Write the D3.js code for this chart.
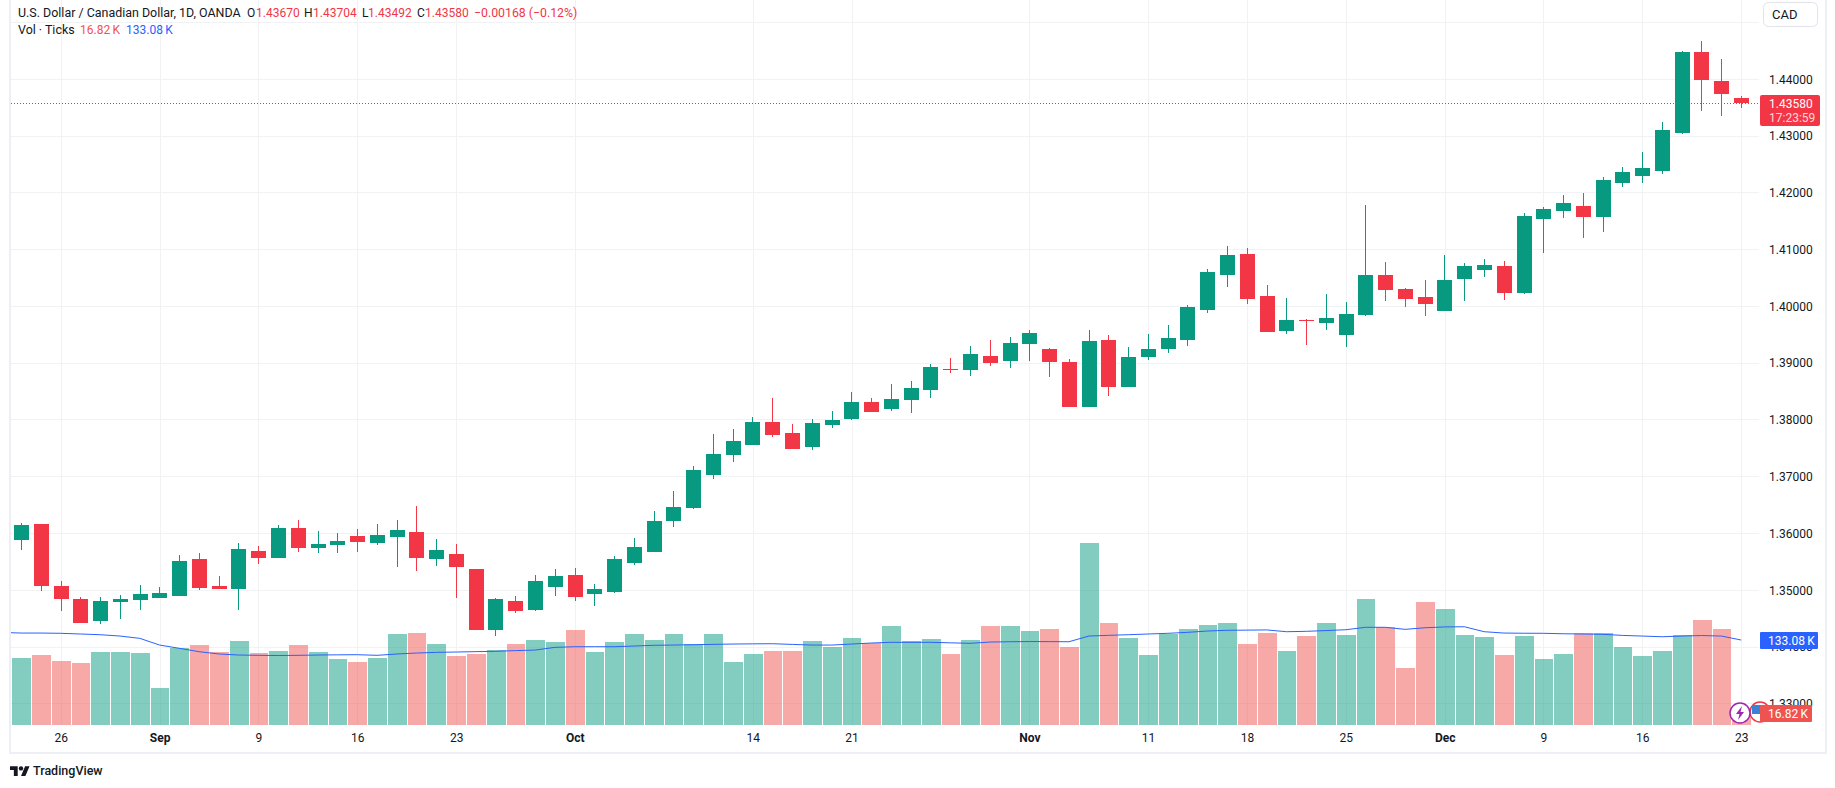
<!DOCTYPE html>
<html><head><meta charset="utf-8">
<script src="https://cdn.jsdelivr.net/npm/d3@7/dist/d3.min.js"></script>
<style>
html,body{margin:0;padding:0;background:#fff;overflow:hidden}
svg{display:block}
text{font-family:Roboto,sans-serif;fill:#131722}
</style></head><body>
<svg id="c" width="1835" height="788"></svg>
<script>
const dates=["08-22","08-23","08-26","08-27","08-28","08-29","08-30","09-02","09-03","09-04","09-05","09-06","09-09","09-10","09-11","09-12","09-13","09-16","09-17","09-18","09-19","09-20","09-23","09-24","09-25","09-26","09-27","09-30","10-01","10-02","10-03","10-04","10-07","10-08","10-09","10-10","10-11","10-14","10-15","10-16","10-17","10-18","10-21","10-22","10-23","10-24","10-25","10-28","10-29","10-30","10-31","11-01","11-04","11-05","11-06","11-07","11-08","11-11","11-12","11-13","11-14","11-15","11-18","11-19","11-20","11-21","11-22","11-25","11-26","11-27","11-28","11-29","12-02","12-03","12-04","12-05","12-06","12-09","12-10","12-11","12-12","12-13","12-16","12-17","12-18","12-19","12-20","12-23"];
const open=[1.3589,1.36167,1.35077,1.34849,1.34462,1.34796,1.34831,1.34866,1.34902,1.35552,1.35077,1.35025,1.35692,1.35569,1.36097,1.35745,1.35798,1.35956,1.35833,1.35938,1.36026,1.35552,1.3564,1.35376,1.34304,1.34814,1.34655,1.3506,1.3527,1.34937,1.34972,1.35482,1.35675,1.3622,1.36448,1.37028,1.3738,1.37555,1.3796,1.37766,1.3752,1.37907,1.38012,1.38311,1.38188,1.38346,1.38522,1.38903,1.38874,1.3912,
1.39039,1.39338,1.3925,1.39021,1.38231,1.39408,1.38582,1.39109,1.3925,1.39408,1.39935,1.4055,1.40918,1.40181,1.39566,1.39759,1.39707,1.39496,1.39847,1.4055,1.40304,1.40163,1.39912,1.4048,1.40638,1.40708,1.40241,1.41534,1.41675,1.41762,1.41569,1.42166,1.42289,1.42377,1.43062,1.4448,1.4397,1.4367];
const high=[1.3618,1.36167,1.35165,1.34884,1.34884,1.34919,1.35095,1.3506,1.35622,1.35657,1.35253,1.35833,1.3578,1.36149,1.36237,1.36044,1.36009,1.36079,1.36167,1.36237,1.36483,1.35903,1.35815,1.35376,1.34866,1.34902,1.3527,1.35376,1.35394,1.35112,1.35605,1.35921,1.36395,1.36747,1.37186,1.37749,1.37837,1.38047,1.38381,1.37924,1.38012,1.38153,1.38487,1.38381,1.38627,1.3868,1.38979,1.39084,1.39295,1.39401,
1.3946,1.39584,1.39267,1.39074,1.39584,1.39496,1.39285,1.39513,1.39671,1.40023,1.40655,1.41059,1.41024,1.40374,1.40146,1.39776,1.40216,1.40076,1.4178,1.40778,1.40322,1.40462,1.40901,1.40761,1.40831,1.40796,1.41639,1.41745,1.41956,1.41991,1.42272,1.42448,1.42711,1.4325,1.44499,1.44673,1.44357,1.43704];
const low=[1.3571,1.34995,1.34638,1.34427,1.3441,1.34497,1.34655,1.34866,1.34902,1.35007,1.35025,1.34655,1.35464,1.35569,1.35675,1.35657,1.35657,1.35675,1.35798,1.35411,1.35341,1.35429,1.34866,1.34304,1.34199,1.34591,1.34638,1.34902,1.34814,1.34726,1.34954,1.35446,1.35675,1.36114,1.3643,1.36958,1.37257,1.37555,1.37696,1.37485,1.37467,1.37854,1.37995,1.38135,1.38153,1.38118,1.38381,1.3882,1.38768,1.38944,
1.38916,1.39039,1.38758,1.38231,1.38231,1.38424,1.38582,1.39057,1.39179,1.39302,1.39882,1.40339,1.4004,1.39548,1.39513,1.3932,1.39584,1.39285,1.3983,1.40093,1.39988,1.3983,1.39912,1.40093,1.40515,1.40118,1.40224,1.40938,1.41552,1.412,1.41305,1.42096,1.42166,1.42325,1.43044,1.43443,1.43355,1.43492];
const close=[1.3615,1.35077,1.34849,1.34427,1.34814,1.34849,1.34937,1.34954,1.35517,1.35042,1.35025,1.35728,1.35569,1.36097,1.35745,1.35815,1.35868,1.35851,1.35974,1.36062,1.35569,1.3571,1.35411,1.34304,1.34849,1.34638,1.35165,1.35253,1.34884,1.35025,1.35552,1.35763,1.3622,1.36466,1.37116,1.37397,1.37626,1.3796,1.37731,1.37485,1.37942,1.37995,1.38311,1.38135,1.38364,1.38557,1.3893,1.38885,1.39155,1.38997,
1.39355,1.39531,1.39021,1.38231,1.3939,1.38582,1.39109,1.3925,1.39443,1.39988,1.40603,1.40901,1.40128,1.39548,1.39759,1.39742,1.39794,1.39865,1.4055,1.40286,1.40128,1.4004,1.40462,1.40708,1.40726,1.40241,1.41587,1.4171,1.41815,1.41569,1.42219,1.4236,1.4243,1.43109,1.4448,1.43988,1.43742,1.4358];
const volume=[104.9,109.6,100.2,97.1,114.3,114.3,112.7,57.9,120.6,125.2,114.3,131.5,112.7,115.9,125.2,114.3,103.3,98.6,104.9,142.5,144,126.8,108,111.2,117.4,126.8,133.1,129.9,148.7,114.3,129.9,142.5,133.1,142.5,126.8,142.5,98.6,111.2,115.9,115.9,131.5,122.1,136.2,128.4,155,131.5,134.6,111.2,133.1,155,
155,147.2,150.3,122.1,284.9,159.7,136.2,109.6,142.5,150.3,156.6,159.7,126.8,144,115.9,139.3,159.7,140.9,197.3,153.4,89.2,192.6,181.6,140.9,137.8,109.6,139.3,103.3,111.2,144,144,122.1,108,115.9,140.9,164.4,150.3,16.82];
const volumeMA=[144,144,143.6,142.5,141.4,139.3,135.7,125.2,120.1,114.8,111.2,109.6,109.1,108.8,109.1,109.6,109.9,110.1,109.1,111.2,112.7,113.8,114.3,114.9,115.4,116.5,117.4,121.6,122.6,122.6,122.6,123.7,124.8,125.2,125.7,126.3,126.8,127.1,127.3,126.2,125.2,125.2,126.8,128.4,129.5,129.5,129.5,128.7,127.9,129.9,
130.4,130.7,130.6,130.4,139.3,140.4,141.4,142.5,143.6,145.1,147.2,148.3,148.6,148.9,146.1,146.7,147.9,149.2,153,153,149.8,152.3,153.6,153.9,146.1,144,143.7,143.6,142.9,142.5,142,140.3,139.3,138.2,139.3,140.1,139.3,133.08];
const volumeMAPrior=145;
const timeTickDates=["08-26","09-02","09-09","09-16","09-23","10-01","10-14","10-21","11-01","11-11","11-18","11-25","12-02","12-09","12-16","12-23"];
const timeTickLabels=["26","Sep","9","16","23","Oct","14","21","Nov","11","18","25","Dec","9","16","23"];
const monthLabels=["Sep","Oct","Nov","Dec"];
const priceTicks=[1.33,1.34,1.35,1.36,1.37,1.38,1.39,1.40,1.41,1.42,1.43,1.44];
const priceGrid=[...priceTicks,1.45];
const lastPrice=1.4358, lastVol=16.82, lastMA=133.08;

const FONT="Roboto,sans-serif",FS=12;
const GREEN="#089981",RED="#F23645",BLUE="#2962FF",VRED="#EF5350",GRID="#F1F2F3",FRAME="#EEEFF4";
const svg=d3.select("#c");
svg.append("defs").append("clipPath").attr("id","pane").append("rect").attr("x",11).attr("y",0).attr("width",1748).attr("height",725);
const x=d3.scalePoint().domain(dates).range([21.2,1741.2]);
const y=d3.scaleLinear().domain([1.33,1.45]).range([703.8,22.5]);
const v=d3.scaleLinear().domain([0,200]).range([725,597.3]);
const px=d=>Math.round(d)+.5;
const idx=d3.range(dates.length);
const isUp=i=>close[i]>=open[i];

// frame
svg.append("rect").attr("x",9).attr("y",0).attr("width",2).attr("height",754).attr("fill",FRAME);
svg.append("rect").attr("x",1825).attr("y",0).attr("width",2).attr("height",754).attr("fill",FRAME);
svg.append("rect").attr("x",9).attr("y",752).attr("width",1818).attr("height",2).attr("fill",FRAME);

// grid
const grid=svg.append("g").attr("shape-rendering","crispEdges").attr("stroke",GRID);
grid.selectAll("line.h").data(priceGrid).join("line").attr("class","h")
  .attr("x1",11).attr("x2",1759).attr("y1",d=>Math.floor(y(d))+.5).attr("y2",d=>Math.floor(y(d))+.5);
grid.selectAll("line.v").data(timeTickDates).join("line").attr("class","v")
  .attr("y1",0).attr("y2",725).attr("x1",d=>px(x(d))).attr("x2",d=>px(x(d)));

// volume
svg.append("g").attr("shape-rendering","crispEdges").selectAll("rect").data(idx).join("rect")
  .attr("x",i=>Math.round(x(dates[i])-9.885)+1)
  .attr("width",i=>Math.round(x(dates[i])+9.885)-Math.round(x(dates[i])-9.885)-1)
  .attr("y",i=>Math.round(v(volume[i])))
  .attr("height",i=>725-Math.round(v(volume[i])))
  .attr("fill",i=>isUp(i)?GREEN:VRED).attr("fill-opacity",.5);

// MA (its first point continues one bar step left of the first bar, clipped at the pane edge)
const step=x.step();
const maPts=[[x(dates[0])-step,volumeMAPrior],...idx.map(i=>[x(dates[i]),volumeMA[i]])];
svg.append("path").attr("clip-path","url(#pane)").attr("fill","none").attr("stroke",BLUE).attr("stroke-width",1)
  .attr("d",d3.line().x(d=>d[0]).y(d=>v(d[1]))(maPts));

// candles
const cg=svg.append("g").attr("shape-rendering","crispEdges");
cg.selectAll("line").data(idx).join("line")
  .attr("x1",i=>Math.round(x(dates[i])-7.2)+7.5).attr("x2",i=>Math.round(x(dates[i])-7.2)+7.5)
  .attr("y1",i=>Math.round(y(high[i]))).attr("y2",i=>Math.round(y(low[i])))
  .attr("stroke",i=>isUp(i)?GREEN:RED);
cg.selectAll("rect").data(idx).join("rect")
  .attr("x",i=>Math.round(x(dates[i])-7.2)).attr("width",15)
  .attr("y",i=>Math.round(y(Math.max(open[i],close[i]))))
  .attr("height",i=>Math.max(1,Math.round(y(Math.min(open[i],close[i])))-Math.round(y(Math.max(open[i],close[i])))))
  .attr("fill",i=>isUp(i)?GREEN:RED);

// last price line
svg.append("line").attr("x1",11).attr("x2",1759).attr("y1",px(y(lastPrice))).attr("y2",px(y(lastPrice)))
  .attr("stroke",RED).attr("stroke-dasharray","1 2").attr("shape-rendering","crispEdges");

// axes
const yAxis=d3.axisRight(y).tickValues(priceTicks).tickFormat(d3.format(".5f")).tickSize(0).tickPadding(0);
const ya=svg.append("g").attr("transform","translate(1769,0)").call(yAxis);
ya.select(".domain").remove();
ya.selectAll("text").style("font-family",FONT).style("font-size",FS+"px").attr("fill","#131722");
const xAxis=d3.axisBottom(x).tickValues(timeTickDates).tickFormat((d,i)=>timeTickLabels[i]).tickSize(0).tickPadding(0);
const xa=svg.append("g").attr("transform","translate(0,733)").call(xAxis);
xa.select(".domain").remove();
xa.selectAll("text").style("font-family",FONT).style("font-size",FS+"px").attr("fill","#131722")
  .style("font-weight",function(){return monthLabels.includes(this.textContent)?700:400;});

// legend
const leg=(t,xp,yp,c,fs)=>svg.append("text").attr("x",xp).attr("y",yp).attr("font-size",fs||FS).style("fill",c||"#131722").text(t);
leg("U.S. Dollar / Canadian Dollar, 1D, OANDA",18,17,null,12.45);
leg("O",247,17);leg("1.43670",256,17,RED);
leg("H",304,17);leg("1.43704",313,17,RED);
leg("L",362,17);leg("1.43492",368,17,RED);
leg("C",417,17);leg("1.43580",425,17,RED);
leg("−0.00168 (−0.12%)",474,17,RED,12.3);
leg("Vol · Ticks",18,34,null,12.45);
leg("16.82\u2009K",80,34,VRED);
leg("133.08\u2009K",126,34,BLUE);

// CAD button
svg.append("rect").attr("x",1763.5).attr("y",2.5).attr("width",54).attr("height",24).attr("rx",5)
  .attr("fill","#fff").attr("stroke","#E0E3EB");
svg.append("text").attr("x",1772).attr("y",19).attr("font-size",13).text("CAD");

// price label
svg.append("rect").attr("x",1760).attr("y",95).attr("width",60).attr("height",31).attr("rx",2).attr("fill",RED);
svg.append("text").attr("x",1769).attr("y",108).attr("font-size",FS).style("fill","#fff").text(d3.format(".5f")(lastPrice));
svg.append("text").attr("x",1769).attr("y",122).attr("font-size",FS).style("fill","#FCD7DA").text("17:23:59");

// event badges
svg.append("circle").attr("cx",1760).attr("cy",712).attr("r",10).attr("fill","#fff").attr("stroke",RED).attr("stroke-width",1.5);
svg.append("rect").attr("x",1752).attr("y",705).attr("width",9).attr("height",9).attr("fill","#3B82D6");
svg.append("circle").attr("cx",1740).attr("cy",713).attr("r",10).attr("fill","#fff").attr("stroke","#9C27B0").attr("stroke-width",1.5);
svg.append("path").attr("d","M1742 706l-6 8h3.5l-1.5 6 6-8h-3.5z").attr("fill","#9C27B0");

// volume labels
svg.append("rect").attr("x",1760).attr("y",632).attr("width",58).attr("height",17).attr("rx",1).attr("fill",BLUE);
svg.append("text").attr("x",1768).attr("y",645).attr("font-size",FS).style("fill","#fff").text("133.08\u2009K");
svg.append("rect").attr("x",1760).attr("y",705).attr("width",52).attr("height",17).attr("rx",1).attr("fill",VRED);
svg.append("text").attr("x",1768).attr("y",718).attr("font-size",FS).style("fill","#fff").text("16.82\u2009K");

// logo
const logo=svg.append("g").attr("transform","translate(10,764) scale(.55)").attr("fill","#131722");
logo.append("path").attr("d","M14 22H7V11H0V4h14v18zM28 22h-8l7.5-18h8L28 22z");
logo.append("circle").attr("cx",20).attr("cy",8).attr("r",4);
svg.append("text").attr("x",33).attr("y",775).attr("font-size",12.5).attr("font-weight",500).text("TradingView");
</script>
</body></html>
